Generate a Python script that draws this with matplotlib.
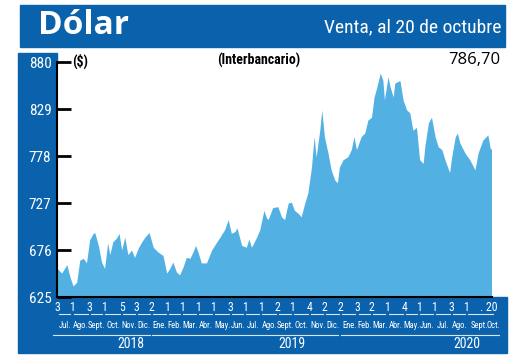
import matplotlib
matplotlib.use("Agg")
import matplotlib.pyplot as plt
import matplotlib.dates as mdates
import matplotlib.transforms as mtransforms
from matplotlib.patches import Rectangle
import numpy as np
import pandas as pd

# dolar interbancario (venta)
fechas = ["2018-07-03", "2018-07-05", "2018-07-12", "2018-07-22", "2018-07-28", "2018-08-03",
          "2018-08-10", "2018-08-16", "2018-08-23", "2018-08-29", "2018-09-04", "2018-09-11",
          "2018-09-14", "2018-09-21", "2018-09-27", "2018-10-03", "2018-10-09", "2018-10-13",
          "2018-10-19", "2018-10-26", "2018-10-31", "2018-11-05", "2018-11-11", "2018-11-17",
          "2018-11-24", "2018-11-30", "2018-12-07", "2018-12-13", "2018-12-20", "2018-12-28",
          "2019-01-05", "2019-01-14", "2019-01-24", "2019-01-31", "2019-02-06", "2019-02-12",
          "2019-02-19", "2019-02-25", "2019-03-04", "2019-03-10", "2019-03-17", "2019-03-23",
          "2019-03-28", "2019-04-02", "2019-04-08", "2019-04-18", "2019-04-28", "2019-05-07",
          "2019-05-14", "2019-05-23", "2019-05-30", "2019-06-05", "2019-06-12", "2019-06-16",
          "2019-06-25", "2019-07-04", "2019-07-09", "2019-07-14", "2019-07-24", "2019-07-30",
          "2019-08-07", "2019-08-12", "2019-08-15", "2019-08-24", "2019-09-03", "2019-09-10",
          "2019-09-16", "2019-09-23", "2019-09-29", "2019-10-05", "2019-10-12", "2019-10-18",
          "2019-10-25", "2019-10-31", "2019-11-07", "2019-11-12", "2019-11-16", "2019-11-23",
          "2019-11-27", "2019-12-02", "2019-12-09", "2019-12-15", "2019-12-22", "2019-12-27",
          "2019-12-31", "2020-01-07", "2020-01-16", "2020-01-23", "2020-01-28", "2020-02-02",
          "2020-02-11", "2020-02-18", "2020-02-24", "2020-03-02", "2020-03-07", "2020-03-11",
          "2020-03-19", "2020-03-24", "2020-03-27", "2020-04-03", "2020-04-07", "2020-04-13",
          "2020-04-16", "2020-04-26", "2020-05-02", "2020-05-09", "2020-05-15", "2020-05-21",
          "2020-05-28", "2020-06-03", "2020-06-10", "2020-06-13", "2020-06-20", "2020-06-26",
          "2020-07-03", "2020-07-09", "2020-07-16", "2020-07-22", "2020-07-31", "2020-08-04",
          "2020-08-11", "2020-08-15", "2020-08-20", "2020-08-30", "2020-09-08", "2020-09-18",
          "2020-09-24", "2020-10-03", "2020-10-13", "2020-10-18", "2020-10-20"]
valores = [656, 655, 651, 660, 647, 637,
           641, 665, 667, 662, 687, 694,
           695, 681, 663, 656, 684, 671,
           685, 689, 694, 676, 690, 671,
           676, 668, 678, 684, 690, 695,
           679, 674, 670, 651, 656, 663,
           652, 649, 658, 668, 667, 674,
           681, 673, 662, 662, 676, 684,
           690, 698, 709, 694, 696, 700,
           681, 679, 688, 679, 690, 698,
           719, 711, 709, 722, 723, 712,
           709, 727, 728, 719, 716, 712,
           727, 738, 766, 799, 777, 806,
           828, 799, 781, 763, 752, 749,
           766, 774, 777, 785, 799, 785,
           799, 803, 817, 820, 842, 850,
           868, 860, 839, 864, 853, 842,
           857, 860, 839, 828, 825, 806,
           809, 774, 770, 788, 814, 820,
           799, 788, 785, 774, 760, 777,
           799, 803, 792, 781, 774, 763,
           781, 795, 801, 785, 786.70]

y_ticks = [625, 676, 727, 778, 829, 880]

# first business day shown for every month, and month names
inicio_mes = ["2018-07-03", "2018-08-01", "2018-09-03", "2018-10-01", "2018-11-05", "2018-12-03",
              "2019-01-02", "2019-02-01", "2019-03-01", "2019-04-01", "2019-05-01", "2019-06-03",
              "2019-07-01", "2019-08-01", "2019-09-02", "2019-10-01", "2019-11-04", "2019-12-02",
              "2020-01-02", "2020-02-03", "2020-03-02", "2020-04-01", "2020-05-04", "2020-06-01",
              "2020-07-01", "2020-08-03", "2020-09-01"]
dias = ["3", "1", "3", "1", "5", "3", "2", "1", "1", "1", "1", "3", "1", "1", "2", "1", "4", "2",
        "2", "3", "2", "1", "4", "1", "1", "3", "1"]
meses = ["Jul.", "Ago.", "Sept.", "Oct.", "Nov.", "Dic.",
         "Ene.", "Feb.", "Mar.", "Abr.", "May.", "Jun.", "Jul.", "Ago.", "Sept.", "Oct.", "Nov.", "Dic.",
         "Ene.", "Feb.", "Mar.", "Abr.", "May.", "Jun.", "Jul.", "Ago.", "Sept.", "Oct."]
anios = ["2018", "2019", "2020"]
anio_label_pos = ["2018-11-23", "2019-09-30", "2020-09-03"]

AZUL = "#0B62AC"
CELESTE = "#52B1E2"
NARROW = ["Roboto Condensed", "Liberation Sans Narrow", "Lato", "DejaVu Sans"]

x = mdates.date2num(pd.to_datetime(fechas))
inicio = mdates.date2num(pd.to_datetime(fechas[0]))
fin = mdates.date2num(pd.to_datetime(fechas[-1]))

W, H = 520, 359
fig = plt.figure(figsize=(W / 100, H / 100), dpi=100)


def rect(x0, y0, x1, y1, **kw):
    fig.patches.append(Rectangle((x0 / W, 1 - y1 / H), (x1 - x0) / W, (y1 - y0) / H,
                                 transform=fig.transFigure, figure=fig, **kw))


rect(20, 5, 505, 47, color=AZUL, zorder=0)
rect(18, 53, 57, 298, color=AZUL, zorder=0)
rect(18, 297, 507, 353, color=AZUL, zorder=0)

ax = fig.add_axes([57 / W, 1 - 297 / H, (492 - 57) / W, 235 / H])
ax.set_zorder(3)
ax.set_facecolor("white")
ax.fill_between(x, 625, valores, color=CELESTE, linewidth=0)
ax.set_xlim(inicio, fin + 1)
ax.set_ylim(625, 880)
ax.set_yticks(y_ticks)
ax.set_xticks([])
ax.tick_params(axis="y", direction="in", length=10, width=2, color="black",
               labelcolor="white", labelsize=11, pad=4)
for lab in ax.get_yticklabels():
    lab.set_family(NARROW)
for s in ["top", "right"]:
    ax.spines[s].set_visible(False)
ax.spines["left"].set_linewidth(1.5)
ax.spines["bottom"].set_linewidth(1.5)

# x axis labels (days, months, years)
tr = mtransforms.blended_transform_factory(ax.transData, ax.transAxes)
mes_ini = mdates.date2num(pd.to_datetime(inicio_mes))
bordes = list(mes_ini) + [fin]
for i, d in enumerate(dias):
    ax.text(mes_ini[i], -0.045, d, transform=tr, ha="center", va="center", color="white",
            fontsize=8.5, family=NARROW, clip_on=False)
ax.text(fin - 6, -0.045, ". 20", transform=tr, ha="center", va="center", color="white",
        fontsize=8.5, family=NARROW, clip_on=False)
for i, m in enumerate(meses):
    a = bordes[i]
    b = bordes[i + 1] if i + 1 < len(bordes) else fin
    xm = (a + b) / 2 + 1 if i + 1 < len(bordes) else fin + 4
    ax.text(xm, -0.12, m, transform=tr, ha="center", va="center", color="white",
            fontsize=6.2, family=NARROW, clip_on=False)
    ax.plot([a + 3, b - 3], [-0.073, -0.073], transform=tr, color="#D8E6F3", lw=0.8,
            clip_on=False)

limites = [(inicio - 8, mdates.date2num(pd.to_datetime("2018-12-29"))),
           (mdates.date2num(pd.to_datetime("2019-01-03")), mdates.date2num(pd.to_datetime("2019-12-29"))),
           (mdates.date2num(pd.to_datetime("2020-01-03")), fin + 15)]
for (a, b), yr, p in zip(limites, anios, anio_label_pos):
    ax.plot([a, b], [-0.163, -0.163], transform=tr, color="#D8E6F3", lw=0.8, clip_on=False)
    ax.text(mdates.date2num(pd.to_datetime(p)), -0.2, yr, transform=tr, ha="center", va="center",
            color="white", fontsize=10, family=NARROW, clip_on=False)

# header texts
fig.text(38 / W, 1 - 26 / H, "Dólar", fontsize=24, fontweight="bold", color="white",
         va="center", ha="left", family=["Open Sans", "DejaVu Sans"])
fig.text(502 / W, 1 - 27 / H, "Venta, al 20 de octubre", fontsize=14, color="white",
         va="center", ha="right", family=NARROW)
fig.text(72 / W, 1 - 61 / H, "($)", fontsize=10, fontweight="bold", color="black",
         va="center", ha="left", family=NARROW)
fig.text(259 / W, 1 - 60 / H, "(Interbancario)", fontsize=10, fontweight="bold", color="black",
         va="center", ha="center", family=NARROW)
fig.text(500 / W, 1 - 60 / H, "786,70", fontsize=12, color="black",
         va="center", ha="right", family=["Open Sans", "DejaVu Sans"])

fig.savefig("out.png", dpi=100)
